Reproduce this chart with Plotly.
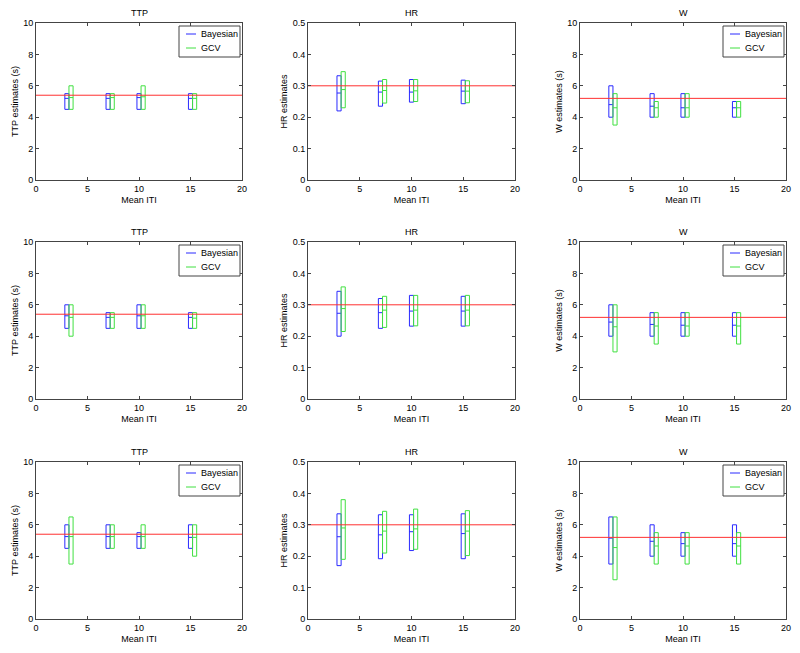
import plotly.graph_objects as go

iti = [3, 7, 10, 15]
params = ["TTP", "HR", "W"]
ylabels = {"TTP": "TTP estimates (s)", "HR": "HR estimates", "W": "W estimates (s)"}
true_vals = {"TTP": 5.4, "HR": 0.3, "W": 5.2}
yranges = {"TTP": [0, 10], "HR": [0, 0.5], "W": [0, 10]}
ytickvals = {"TTP": [0, 2, 4, 6, 8, 10], "HR": [0, 0.1, 0.2, 0.3, 0.4, 0.5], "W": [0, 2, 4, 6, 8, 10]}
yticktext = {"TTP": ["0", "2", "4", "6", "8", "10"], "HR": ["0", "0.1", "0.2", "0.3", "0.4", "0.5"],
             "W": ["0", "2", "4", "6", "8", "10"]}
xtickvals = [0, 5, 10, 15, 20]
series_names = ["Bayesian", "GCV"]

# rows: [low, median, high] per ITI
bayes = {
    (0, "TTP"): [[4.5, 5.2, 5.5], [4.5, 5.2, 5.5], [4.5, 5.25, 5.5], [4.5, 5.2, 5.5]],
    (0, "HR"): [[0.22, 0.277, 0.332], [0.235, 0.28, 0.315], [0.248, 0.28, 0.32], [0.243, 0.283, 0.318]],
    (0, "W"): [[4.0, 4.8, 6.0], [4.0, 4.7, 5.5], [4.0, 4.6, 5.5], [4.0, 4.6, 5.0]],
    (1, "TTP"): [[4.5, 5.3, 6.0], [4.5, 5.2, 5.5], [4.5, 5.3, 6.0], [4.5, 5.2, 5.5]],
    (1, "HR"): [[0.2, 0.273, 0.343], [0.225, 0.275, 0.32], [0.232, 0.28, 0.33], [0.232, 0.28, 0.327]],
    (1, "W"): [[4.0, 4.9, 6.0], [4.0, 4.75, 5.5], [4.0, 4.7, 5.5], [4.0, 4.7, 5.5]],
    (2, "TTP"): [[4.5, 5.25, 6.0], [4.5, 5.25, 6.0], [4.5, 5.25, 5.5], [4.5, 5.2, 6.0]],
    (2, "HR"): [[0.17, 0.262, 0.335], [0.192, 0.268, 0.332], [0.218, 0.278, 0.332], [0.192, 0.272, 0.335]],
    (2, "W"): [[3.5, 5.15, 6.5], [4.0, 4.95, 6.0], [4.0, 4.8, 5.5], [4.0, 4.8, 6.0]],
}
gcv = {
    (0, "TTP"): [[4.5, 5.25, 6.0], [4.5, 5.25, 5.5], [4.5, 5.3, 6.0], [4.5, 5.2, 5.5]],
    (0, "HR"): [[0.23, 0.288, 0.345], [0.245, 0.285, 0.32], [0.25, 0.284, 0.32], [0.246, 0.283, 0.316]],
    (0, "W"): [[3.5, 4.6, 5.5], [4.0, 4.6, 5.0], [4.0, 4.6, 5.5], [4.0, 4.6, 5.0]],
    (1, "TTP"): [[4.0, 5.2, 6.0], [4.5, 5.2, 5.5], [4.5, 5.3, 6.0], [4.5, 5.15, 5.5]],
    (1, "HR"): [[0.215, 0.288, 0.357], [0.228, 0.283, 0.327], [0.233, 0.283, 0.33], [0.233, 0.283, 0.33]],
    (1, "W"): [[3.0, 4.6, 6.0], [3.5, 4.65, 5.5], [4.0, 4.65, 5.5], [3.5, 4.65, 5.5]],
    (2, "TTP"): [[3.5, 5.25, 6.5], [4.5, 5.25, 6.0], [4.5, 5.25, 6.0], [4.0, 5.2, 6.0]],
    (2, "HR"): [[0.19, 0.29, 0.38], [0.21, 0.28, 0.343], [0.222, 0.287, 0.35], [0.202, 0.28, 0.345]],
    (2, "W"): [[2.5, 4.55, 6.5], [3.5, 4.65, 5.5], [3.5, 4.65, 5.5], [3.5, 4.65, 5.5]],
}

W, H = 800, 653
xdom_px = [(36, 242), (308, 515), (580, 786)]
ydom_px = [(23, 180), (242, 399), (462, 619)]

BLUE = "#2a2aff"
GREEN = "#40e040"
RED = "#ff3030"
AXC = "#444444"
FONT = "Liberation Sans, Arial, Helvetica, sans-serif"
FS = 9

fig = go.Figure()
layout = dict(template="none", width=W, height=H, margin=dict(l=0, r=0, t=0, b=0),
              paper_bgcolor="white", plot_bgcolor="white",
              font=dict(family=FONT, size=FS, color="black"), showlegend=False)
annotations = []
shapes = []
half = 0.2
offset = 0.4


def px_x(v):
    return v / W


def px_y(v):
    return 1 - v / H


for r in range(3):
    for c, p in enumerate(params):
        k = r * 3 + c + 1
        xa = "x" if k == 1 else f"x{k}"
        ya = "y" if k == 1 else f"y{k}"
        x0, x1 = xdom_px[c]
        y0, y1 = ydom_px[r]
        common = dict(showline=True, linecolor=AXC, linewidth=1, mirror="ticks",
                      ticks="inside", ticklen=3, tickcolor=AXC, showgrid=False,
                      zeroline=False, automargin=False, tickfont=dict(size=FS, family=FONT))
        layout["xaxis" if k == 1 else f"xaxis{k}"] = dict(
            domain=[x0 / W, x1 / W], anchor=ya, range=[0, 20], tickvals=xtickvals,
            title=dict(text="Mean ITI", font=dict(size=FS), standoff=3), **common)
        layout["yaxis" if k == 1 else f"yaxis{k}"] = dict(
            domain=[1 - y1 / H, 1 - y0 / H], anchor=xa, range=yranges[p],
            tickvals=ytickvals[p], ticktext=yticktext[p],
            title=dict(text=ylabels[p], font=dict(size=FS), standoff=3), **common)
        annotations.append(dict(text=p, x=px_x((x0 + x1) / 2), y=px_y(y0 - 10),
                                xref="paper", yref="paper", xanchor="center", yanchor="middle",
                                showarrow=False, font=dict(size=FS)))
        for name, data, col, shift in [(series_names[0], bayes[(r, p)], BLUE, 0.0),
                                       (series_names[1], gcv[(r, p)], GREEN, offset)]:
            xs, ys = [], []
            for xi, (lo, med, hi) in zip(iti, data):
                cx = xi + shift
                xs += [cx - half, cx + half, cx + half, cx - half, cx - half, None,
                       cx - half, cx + half, None]
                ys += [lo, lo, hi, hi, lo, None, med, med, None]
            fig.add_trace(go.Scatter(x=xs, y=ys, mode="lines", line=dict(color=col, width=1),
                                     name=name, xaxis=xa, yaxis=ya, hoverinfo="skip"))
        fig.add_trace(go.Scatter(x=[0, 20], y=[true_vals[p], true_vals[p]], mode="lines",
                                 line=dict(color=RED, width=1), xaxis=xa, yaxis=ya,
                                 name="true", hoverinfo="skip"))
        # manual MATLAB-style legend box
        if p != "HR":
            lx1 = x1 - 2
            lx0 = lx1 - 61
            ly0 = y0 + 3
            ly1 = ly0 + 31
            shapes.append(dict(type="rect", xref="paper", yref="paper",
                               x0=px_x(lx0), x1=px_x(lx1), y0=px_y(ly1), y1=px_y(ly0),
                               line=dict(color=AXC, width=1), fillcolor="white", layer="above"))
            for i, (name, col) in enumerate(zip(series_names, [BLUE, GREEN])):
                yy = ly0 + 8 + i * 14
                shapes.append(dict(type="line", xref="paper", yref="paper",
                                   x0=px_x(lx0 + 7), x1=px_x(lx0 + 17), y0=px_y(yy), y1=px_y(yy),
                                   line=dict(color=col, width=1), layer="above"))
                annotations.append(dict(text=name, x=px_x(lx0 + 20), y=px_y(yy),
                                        xref="paper", yref="paper", xanchor="left",
                                        yanchor="middle", showarrow=False,
                                        font=dict(size=FS)))

layout["annotations"] = annotations
layout["shapes"] = shapes
fig.update_layout(**layout)
fig.write_html("out.html", config={"displayModeBar": False},
               post_script="document.body.style.margin='0px';")
